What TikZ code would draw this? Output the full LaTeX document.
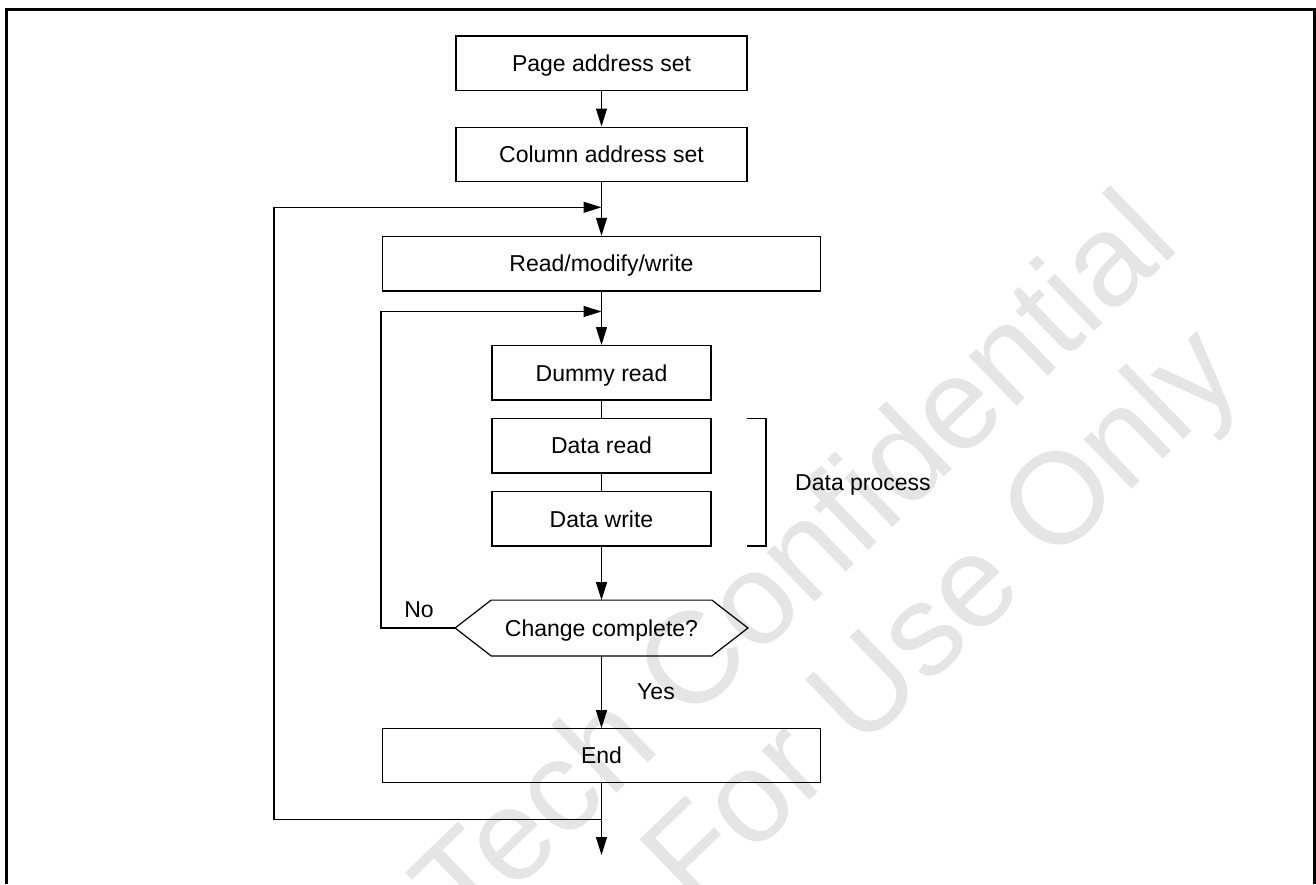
\documentclass[tikz,border=0pt]{standalone}
\usepackage{fontspec}
\setmainfont{Liberation Sans}
\usetikzlibrary{arrows.meta,calc}
\definecolor{wmgray}{RGB}{229,229,229}
\tikzset{
  box/.style={draw, line width=1.2pt, inner sep=0pt, text height=16.5pt, text depth=0pt,
    font=\fontsize{23}{27}\selectfont},
  lbl/.style={inner sep=0pt, text height=16.5pt, text depth=0pt, font=\fontsize{23}{27}\selectfont},
  ln/.style={line width=1.2pt},
  arr/.style={line width=1.2pt, -{Triangle[length=18pt,width=11pt]}},
  wm/.style={text=wmgray, inner sep=0pt, font=\fontsize{130}{130}\selectfont}
}
\begin{document}
\begin{tikzpicture}[x=1pt,y=-1pt]
\useasboundingbox (0,0) rectangle (1316,884);
% watermark
\begin{scope}
\clip (0,0) rectangle (1316,884);
\node[wm, rotate=44, anchor=base west] (wm1) at (465,940) {Tech Confidential};
\node[wm, rotate=44, anchor=base west] (wm2) at (694,912) {For Use Only};
\end{scope}
% frame
\draw[line width=3pt] (6.5,884) -- (6.5,9.5) -- (1314.5,9.5) -- (1314.5,884);
% nodes
\node[box, minimum width=291pt, minimum height=54.6pt] (page) at (601.5,63.2) {Page address set};
\node[box, minimum width=291pt, minimum height=54.6pt] (col) at (601.5,154.4) {Column address set};
\node[box, minimum width=438pt, minimum height=54.6pt] (rmw) at (601.5,263.7) {Read/modify/write};
\node[box, minimum width=219pt, minimum height=54.3pt] (dummy) at (601.5,372.8) {Dummy read};
\node[box, minimum width=219pt, minimum height=54.6pt] (dread) at (601.5,445.6) {Data read};
\node[box, minimum width=219pt, minimum height=54.3pt] (dwrite) at (601.5,518.8) {Data write};
\node[box, draw=none, minimum width=291.6pt, minimum height=54.6pt] (dec) at (601.5,628) {Change complete?};
\draw[ln] (dec.west) -- ($(dec.north west)+(36,0)$) -- ($(dec.north east)+(-36,0)$) -- (dec.east)
  -- ($(dec.south east)+(-36,0)$) -- ($(dec.south west)+(36,0)$) -- cycle;
\node[box, minimum width=438pt, minimum height=54pt] (end) at (601.5,755.7) {End};
% labels
\node[lbl] (no) at (419,609) {No};
\node[lbl] (yes) at (656,691) {Yes};
\node[lbl, anchor=west] (dp) at (795,482) {Data process};
% coordinates
\coordinate (j1) at (601.5,207.3);
\coordinate (o2) at (274,207.3);
\coordinate (o1) at (274,819.3);
\coordinate (e1) at (601.5,819.3);
\coordinate (exit) at (601.5,855);
\coordinate (j2) at (601.5,311.5);
\coordinate (i2) at (381,311.5);
\coordinate (i1) at (381,628);
\coordinate (b1) at (746.7,418.3);
\coordinate (b2) at (766,418.3);
\coordinate (b3) at (766,546);
\coordinate (b4) at (746.7,546);
% connectors
\draw[arr] (page) -- (col);
\draw[arr] (col) -- (rmw);
\draw[arr] (rmw) -- (dummy);
\draw[ln] (dummy) -- (dread);
\draw[ln] (dread) -- (dwrite);
\draw[arr] (dwrite) -- (dec);
\draw[arr] (dec) -- (end);
\draw[arr] (end) -- (exit);
\draw[arr] (e1) -- (o1) -- (o2) -- (j1);
\draw[arr] (dec.west) -- (i1) -- (i2) -- (j2);
\draw[ln] (b1) -- (b2) -- (b3) -- (b4);
\end{tikzpicture}
\end{document}
